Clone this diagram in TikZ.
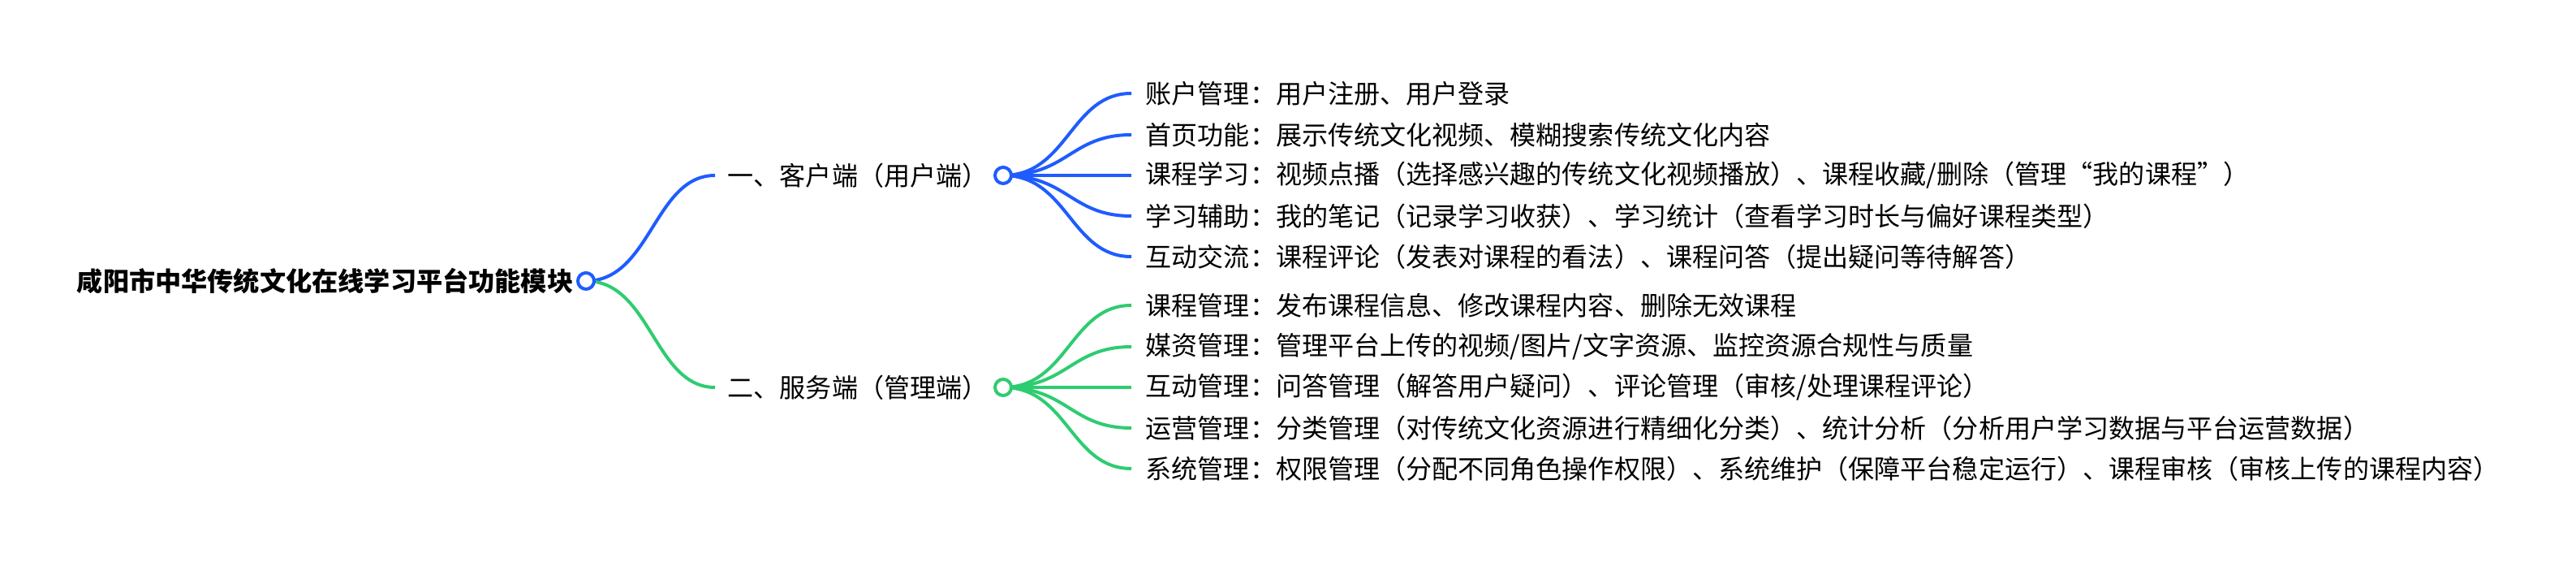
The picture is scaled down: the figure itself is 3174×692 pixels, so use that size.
\documentclass[tikz,border=0pt]{standalone}
\usepackage{fontspec}
\setmainfont{Noto Sans CJK SC}
\usepackage{xcolor}
\usetikzlibrary{backgrounds}

\definecolor{mapblue}{HTML}{1F5CFF}
\definecolor{mapgreen}{HTML}{2ECC71}

\begin{document}
\begin{tikzpicture}[
        x=0.01cm, y=-0.01cm,
        font=\fontsize{9.12}{11}\selectfont,
        rootlbl/.style={anchor=east, inner sep=0pt, font=\fontsize{9.15}{11}\selectfont\bfseries},
        branch/.style={anchor=west, inner xsep=0.15cm, inner ysep=0pt},
        leaf/.style={anchor=west, inner xsep=0.17cm, inner ysep=0pt},
        dot/.style={circle, draw, fill=white, line width=0.04cm, minimum size=0.2cm, inner sep=0pt},
        link/.style={line width=0.04cm}
    ]
        \useasboundingbox (0,0) rectangle (3174,692);

        % root
        \node[rootlbl] (root) at (707,346) {咸阳市中华传统文化在线学习平台功能模块};
        \node[dot, draw=mapblue] (rc) at (722,346) {};

        % client side
        \node[branch] (b1) at (881,216) {一、客户端（用户端）};
        \node[dot, draw=mapblue] (b1c) at (1236,216) {};
        \node[leaf] (a1) at (1394,115) {账户管理：用户注册、用户登录};
        \node[leaf] (a2) at (1394,166) {首页功能：展示传统文化视频、模糊搜索传统文化内容};
        \node[leaf] (a3) at (1394,216) {课程学习：视频点播（选择感兴趣的传统文化视频播放）、课程收藏/删除（管理“我的课程”）};
        \node[leaf] (a4) at (1394,266) {学习辅助：我的笔记（记录学习收获）、学习统计（查看学习时长与偏好课程类型）};
        \node[leaf] (a5) at (1394,316) {互动交流：课程评论（发表对课程的看法）、课程问答（提出疑问等待解答）};

        % server side
        \node[branch] (b2) at (881,477) {二、服务端（管理端）};
        \node[dot, draw=mapgreen] (b2c) at (1236,477) {};
        \node[leaf] (m1) at (1394,376) {课程管理：发布课程信息、修改课程内容、删除无效课程};
        \node[leaf] (m2) at (1394,427) {媒资管理：管理平台上传的视频/图片/文字资源、监控资源合规性与质量};
        \node[leaf] (m3) at (1394,477) {互动管理：问答管理（解答用户疑问）、评论管理（审核/处理课程评论）};
        \node[leaf] (m4) at (1394,527) {运营管理：分类管理（对传统文化资源进行精细化分类）、统计分析（分析用户学习数据与平台运营数据）};
        \node[leaf] (m5) at (1394,577) {系统管理：权限管理（分配不同角色操作权限）、系统维护（保障平台稳定运行）、课程审核（审核上传的课程内容）};

        \begin{scope}[on background layer]
            \draw[link, mapblue] (rc.center) .. controls +(80,0) and +(-75,0) .. (b1.west);
            \draw[link, mapgreen] (rc.center) .. controls +(80,0) and +(-75,0) .. (b2.west);
            \draw[link, mapblue] (b1c.center) .. controls +(80,0) and +(-75,0) .. (a1.west);
            \draw[link, mapblue] (b1c.center) .. controls +(80,0) and +(-75,0) .. (a2.west);
            \draw[link, mapblue] (b1c.center) -- (a3.west);
            \draw[link, mapblue] (b1c.center) .. controls +(80,0) and +(-75,0) .. (a4.west);
            \draw[link, mapblue] (b1c.center) .. controls +(80,0) and +(-75,0) .. (a5.west);
            \draw[link, mapgreen] (b2c.center) .. controls +(80,0) and +(-75,0) .. (m1.west);
            \draw[link, mapgreen] (b2c.center) .. controls +(80,0) and +(-75,0) .. (m2.west);
            \draw[link, mapgreen] (b2c.center) -- (m3.west);
            \draw[link, mapgreen] (b2c.center) .. controls +(80,0) and +(-75,0) .. (m4.west);
            \draw[link, mapgreen] (b2c.center) .. controls +(80,0) and +(-75,0) .. (m5.west);
        \end{scope}
    \end{tikzpicture}
\end{document}
